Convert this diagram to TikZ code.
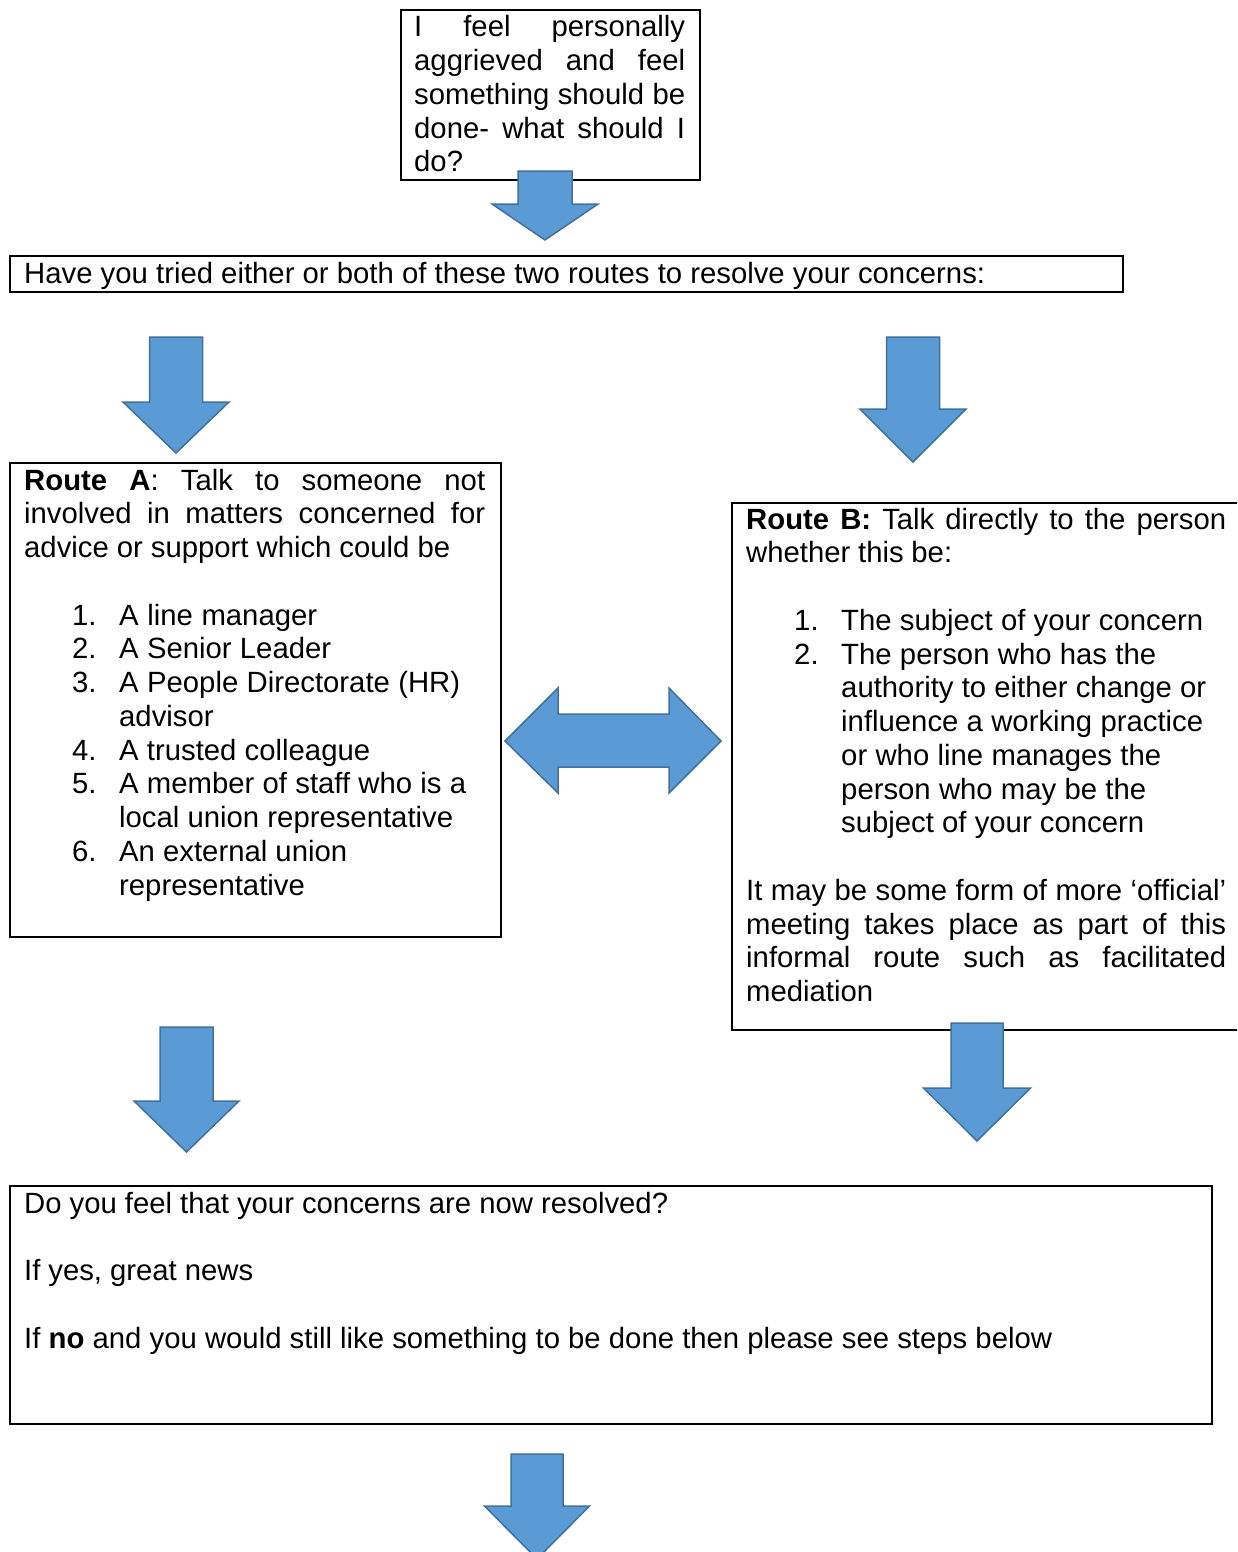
\documentclass[tikz,border=0pt]{standalone}
\usepackage{fontspec}
\setmainfont{Liberation Sans}
\definecolor{arrowfill}{HTML}{5B9BD5}
\definecolor{arrowline}{HTML}{41719C}
\tikzset{
  boxframe/.style={draw=black, line width=1.8pt, inner sep=0pt, anchor=north west},
  txt/.style={inner sep=0pt, anchor=base west, align=left, font=\fontsize{29.3}{33.75}\selectfont},
  blockarrow/.style={fill=arrowfill, draw=arrowline, line width=1.5pt, line join=miter},
}
% a line set to a given width (font's own stretchable spaces fill it)
\newcommand{\wl}[2]{\leavevmode\hbox to #1{\spaceskip=0pt\xspaceskip=0pt\relax #2}}
\newcommand{\itemnum}[1]{\leavevmode\hspace*{48pt}\makebox[47pt][l]{#1}}
\newcommand{\itemcont}{\leavevmode\hspace*{95pt}}
\newcommand{\blockdown}[6]{\draw[blockarrow] ({#1-#2},#3) -- ({#1+#2},#3) -- ({#1+#2},#5) -- ({#1+#4},#5) -- (#1,#6) -- ({#1-#4},#5) -- ({#1-#2},#5) -- cycle;}
\begin{document}
\begin{tikzpicture}[x=1pt,y=-1pt]
\useasboundingbox (0,0) rectangle (1237,1552);
\clip (0,0) rectangle (1237,1552);
\fill[white] (0,0) rectangle (1237,1552);

% boxes
\node[boxframe, minimum width=299pt, minimum height=170pt] (topbox) at (400,9) {};
\node[boxframe, minimum width=1113pt, minimum height=36pt] (qbox) at (9,255) {};
\node[boxframe, minimum width=491pt, minimum height=474pt] (routeA) at (9,462) {};
\node[boxframe, minimum width=530pt, minimum height=527pt] (routeB) at (731,502) {};
\node[boxframe, minimum width=1202pt, minimum height=238pt] (resolved) at (9,1185) {};

% texts
\node[txt, text width=271pt] (toptxt) at (414,37) {%
\wl{271pt}{I feel personally}\\
\wl{271pt}{aggrieved and feel}\\
\wl{271pt}{something should be}\\
\wl{271pt}{done- what should I}\\
do?};

\node[txt] (qtxt) at (24,283) {\wl{961pt}{Have you tried either or both of these two routes to resolve your concerns:}};

\node[txt, text width=461pt] (routeAtxt) at (24,490) {%
\wl{461pt}{\textbf{Route A}: Talk to someone not}\\
\wl{461pt}{involved in matters concerned for}\\
\wl{426pt}{advice or support which could be}\\[33.75pt]
\itemnum{1.}\wl{198pt}{A line manager}\\
\itemnum{2.}\wl{212pt}{A Senior Leader}\\
\itemnum{3.}\wl{341pt}{A People Directorate (HR)}\\
\itemcont advisor\\
\itemnum{4.}\wl{251pt}{A trusted colleague}\\
\itemnum{5.}\wl{347pt}{A member of staff who is a}\\
\itemcont\wl{334pt}{local union representative}\\
\itemnum{6.}\wl{228pt}{An external union}\\
\itemcont representative};

\node[txt, text width=480pt] (routeBtxt) at (746,529) {%
\wl{480pt}{\textbf{Route B:} Talk directly to the person}\\
\wl{206pt}{whether this be:}\\[33.75pt]
\itemnum{1.}\wl{362pt}{The subject of your concern}\\
\itemnum{2.}\wl{315pt}{The person who has the}\\
\itemcont\wl{365pt}{authority to either change or}\\
\itemcont\wl{362pt}{influence a working practice}\\
\itemcont\wl{320pt}{or who line manages the}\\
\itemcont\wl{305pt}{person who may be the}\\
\itemcont\wl{303pt}{subject of your concern}\\[33.75pt]
\wl{480pt}{It may be some form of more ‘official’}\\
\wl{480pt}{meeting takes place as part of this}\\
\wl{480pt}{informal route such as facilitated}\\
mediation};

\node[txt, text width=1170pt] (resolvedtxt) at (24,1213) {%
\wl{644pt}{Do you feel that your concerns are now resolved?}\\[33.75pt]
\wl{229pt}{If yes, great news}\\[33.75pt]
\wl{1028pt}{If \textbf{no} and you would still like something to be done then please see steps below}};

% block arrows
\blockdown{545}{27}{171}{53}{204}{240}
\blockdown{176}{26.5}{337}{53}{402}{453}
\blockdown{913}{26.5}{337}{53}{409}{462}
\blockdown{186.5}{26.5}{1027}{52.5}{1101}{1152}
\blockdown{977}{26}{1023}{53.5}{1088}{1141}
\blockdown{537}{26}{1454}{52.5}{1506}{1559}

\draw[blockarrow] (505,741) -- (558,688) -- (558,714) -- (669,714) -- (669,688) -- (721,741) -- (669,793) -- (669,767) -- (558,767) -- (558,793) -- cycle;
\end{tikzpicture}
\end{document}
